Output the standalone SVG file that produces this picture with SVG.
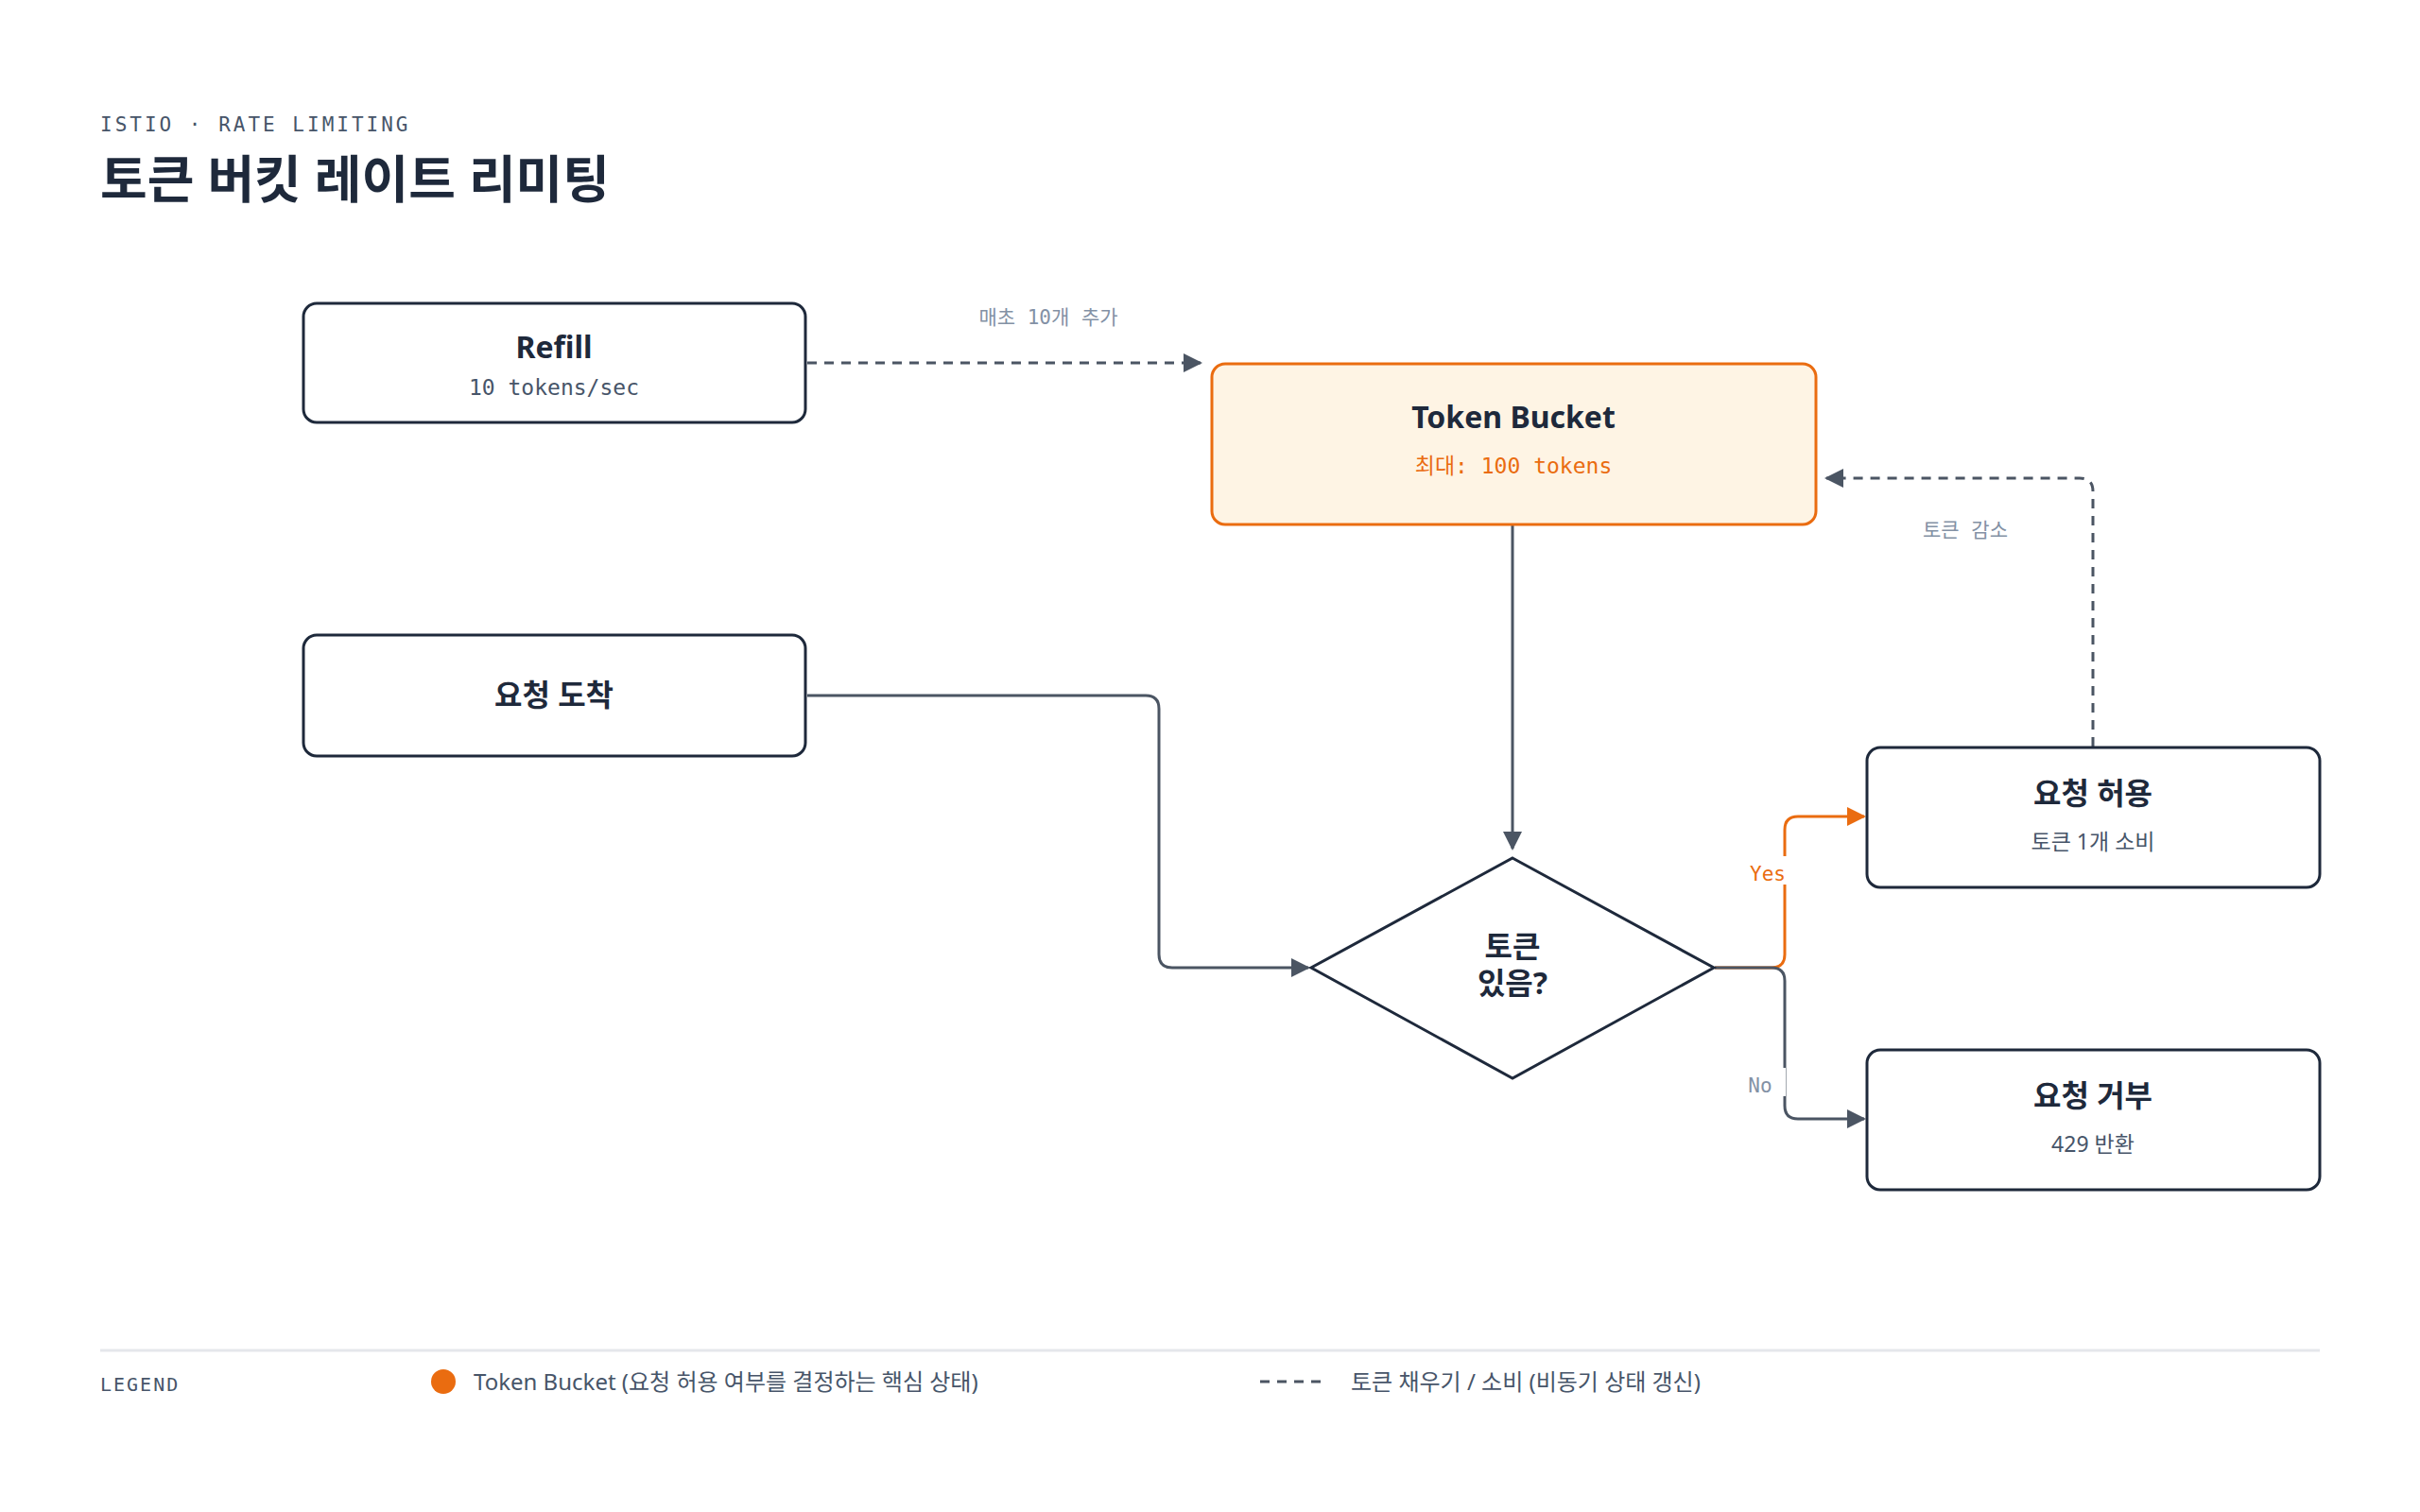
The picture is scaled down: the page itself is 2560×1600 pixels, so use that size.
<svg xmlns="http://www.w3.org/2000/svg" width="2560" height="1600" viewBox="0 0 2560 1600">
<style>
.sans{font-family:"Noto Sans","Noto Sans CJK KR",sans-serif}
.mono{font-family:"DejaVu Sans Mono","Liberation Mono","Noto Sans CJK KR",monospace}
.box{fill:#fff;stroke:#1e293b;stroke-width:3}
.t{font-size:32px;font-weight:700;fill:#1e293b;text-anchor:middle}
.s{font-size:23px;fill:#475569;text-anchor:middle}
.c{fill:none;stroke:#4b5563;stroke-width:3}
.d{stroke-dasharray:10 8}
.lbl{font-size:21px;fill:#8391a5;text-anchor:middle}
</style>
<defs>
<marker id="ag" viewBox="0 0 10 10" refX="9" refY="5" markerWidth="7" markerHeight="7" markerUnits="userSpaceOnUse" orient="auto"><path d="M0,0L10,5L0,10z" fill="#4b5563" transform="scale(1)"/></marker>
<marker id="a" viewBox="0 0 10 10" refX="9" refY="5" markerWidth="22" markerHeight="20" markerUnits="userSpaceOnUse" orient="auto"><path d="M0,0L10,5L0,10z" fill="#4b5563"/></marker>
<marker id="ao" viewBox="0 0 10 10" refX="9" refY="5" markerWidth="22" markerHeight="20" markerUnits="userSpaceOnUse" orient="auto"><path d="M0,0L10,5L0,10z" fill="#ea6c10"/></marker>
</defs>
<rect width="2560" height="1600" fill="#fff"/>
<text x="106" y="139" class="mono" font-size="21" letter-spacing="3" fill="#475569">ISTIO · RATE LIMITING</text>
<text x="106" y="210" class="sans" font-size="54" font-weight="700" fill="#1e293b">토큰 버킷 레이트 리미팅</text>
<g id="connectors">
<path class="c d" d="M854,384H1270" marker-end="url(#a)"/>
<text x="1109" y="343" class="mono lbl">매초 10개 추가</text>
<path class="c" d="M1600,556V898" marker-end="url(#a)"/>
<path class="c" d="M854,736H1212q14,0 14,14V1010q0,14 14,14H1384" marker-end="url(#a)"/>
<path d="M1814,1024H1874q14,0 14,-14V878q0,-14 14,-14H1972" fill="none" stroke="#ea6c10" stroke-width="3" marker-end="url(#ao)"/>
<rect x="1850" y="906" width="40" height="30" fill="#fff"/>
<text x="1870" y="932" class="mono" font-size="21" fill="#ea6c10" text-anchor="middle">Yes</text>
<path class="c" d="M1814,1024H1874q14,0 14,14V1170q0,14 14,14H1972" marker-end="url(#a)"/>
<rect x="1845" y="1130" width="44" height="30" fill="#fff"/>
<text x="1862" y="1156" class="mono lbl">No</text>
<path class="c d" d="M2214,790V520q0,-14 -14,-14H1932" marker-end="url(#a)"/>
<text x="2079" y="568" class="mono lbl">토큰 감소</text>
</g>
<g id="refill"><rect class="box" x="321" y="321" width="531" height="126" rx="14"/>
<text x="586" y="379" class="sans t">Refill</text><text x="586" y="418" class="mono s">10 tokens/sec</text></g>
<g id="bucket"><rect x="1282" y="385" width="639" height="170" rx="14" fill="#fef4e4" stroke="#ea6c10" stroke-width="3"/>
<text x="1601" y="453" class="sans t">Token Bucket</text><text x="1601" y="501" class="mono s" fill="#ea6c10" style="fill:#ea6c10">최대: 100 tokens</text></g>
<g id="arrive"><rect class="box" x="321" y="672" width="531" height="128" rx="14"/>
<text x="586" y="747" class="sans t">요청 도착</text></g>
<g id="decision"><path d="M1600,908L1813,1024L1600,1141L1387,1024Z" fill="#fff" stroke="#1e293b" stroke-width="3"/>
<text x="1600" y="1013" class="sans t">토큰</text><text x="1600" y="1052" class="sans t">있음?</text></g>
<g id="allow"><rect class="box" x="1975" y="791" width="479" height="148" rx="14"/>
<text x="2214" y="851" class="sans t">요청 허용</text><text x="2214" y="899" class="sans s">토큰 1개 소비</text></g>
<g id="deny"><rect class="box" x="1975" y="1111" width="479" height="148" rx="14"/>
<text x="2214" y="1171" class="sans t">요청 거부</text><text x="2214" y="1219" class="sans s">429 반환</text></g>
<g id="legend">
<line x1="106" y1="1429" x2="2454" y2="1429" stroke="#e5e7eb" stroke-width="3"/>
<text x="106" y="1472" class="mono" font-size="20" letter-spacing="2" fill="#475569">LEGEND</text>
<circle cx="469" cy="1462" r="13" fill="#ea6c10"/>
<text x="501" y="1471" class="sans" font-size="24" fill="#475569">Token Bucket (요청 허용 여부를 결정하는 핵심 상태)</text>
<line x1="1333" y1="1462" x2="1400" y2="1462" stroke="#4b5563" stroke-width="3" stroke-dasharray="10 8"/>
<text x="1429" y="1471" class="sans" font-size="24" fill="#475569">토큰 채우기 / 소비 (비동기 상태 갱신)</text>
</g>
</svg>
